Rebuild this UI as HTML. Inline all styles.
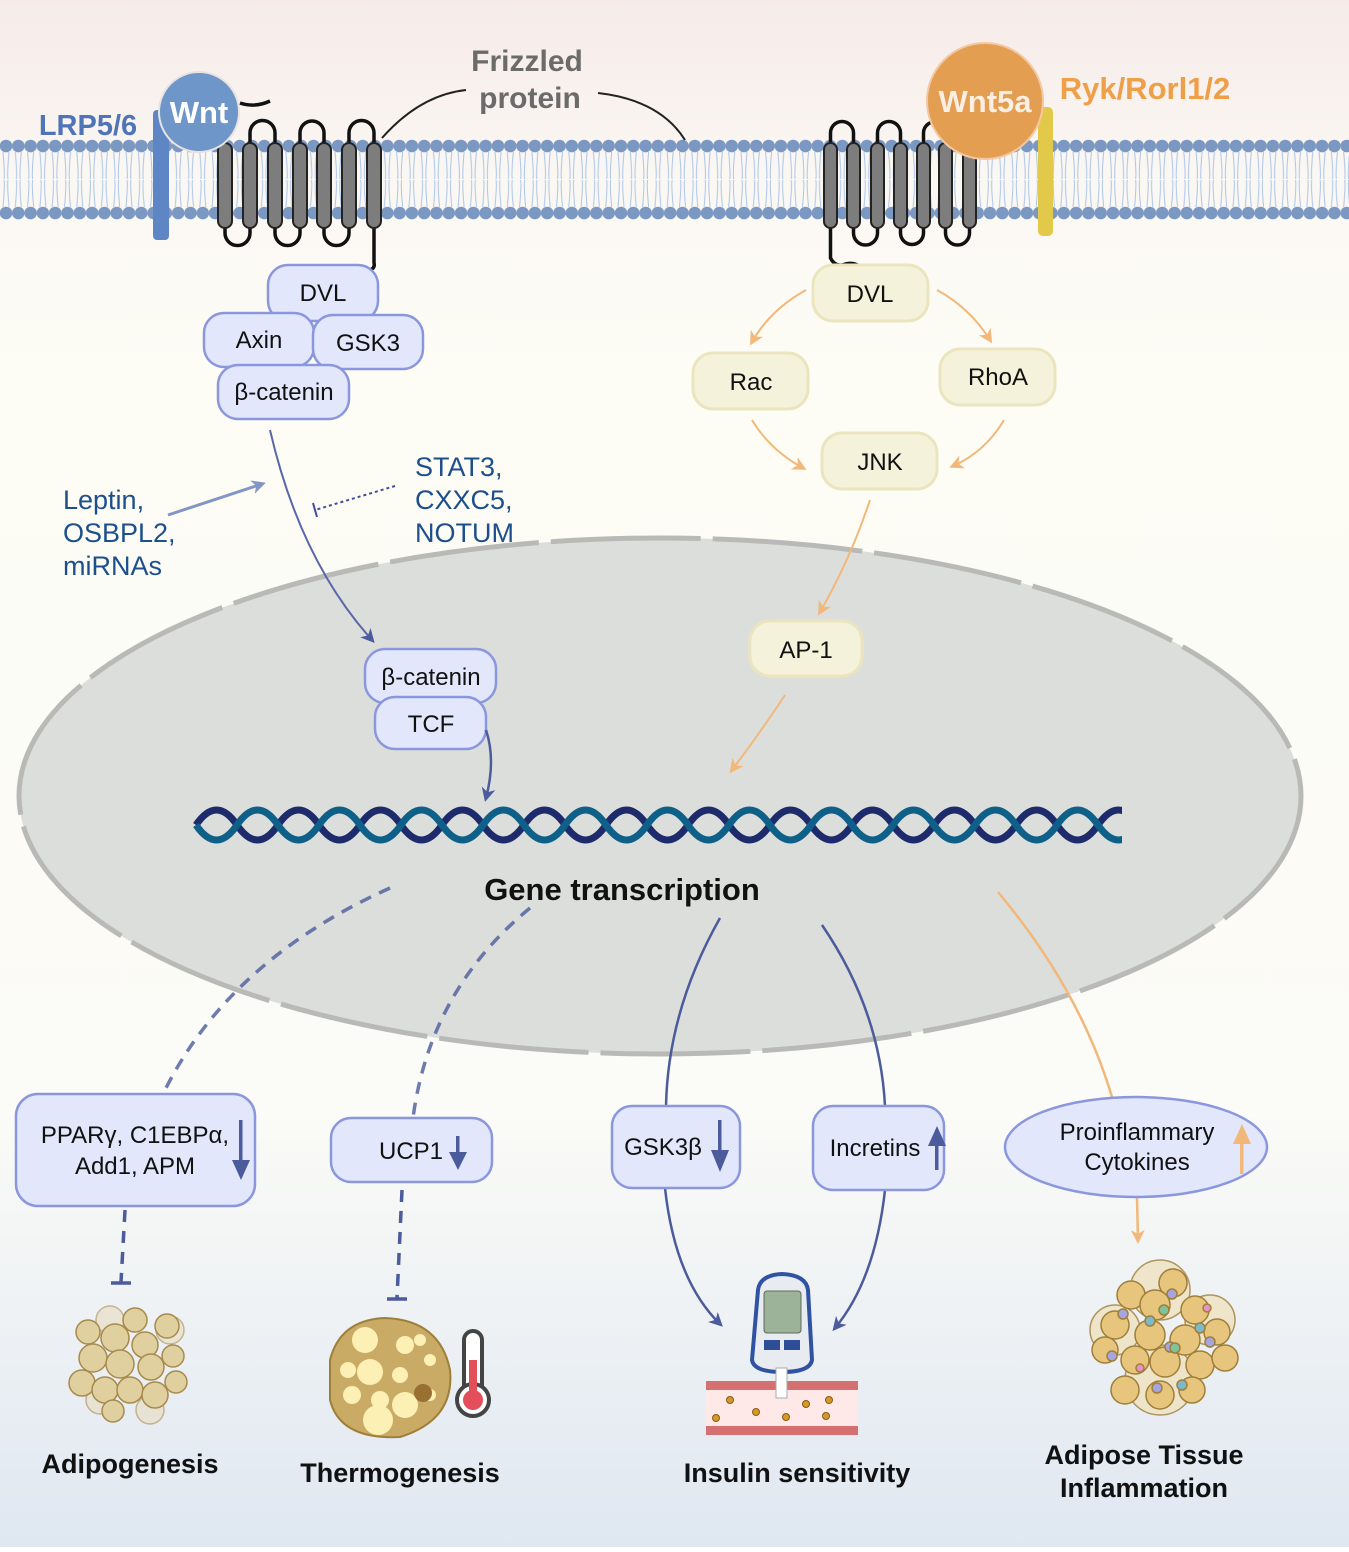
<!DOCTYPE html>
<html><head><meta charset="utf-8"><style>
html,body{margin:0;padding:0}
body{width:1349px;height:1547px;overflow:hidden;font-family:"Liberation Sans",sans-serif}
svg text{font-family:"Liberation Sans",sans-serif}
</style></head><body>
<svg width="1349" height="1547" viewBox="0 0 1349 1547" xmlns="http://www.w3.org/2000/svg">
<defs>
<linearGradient id="bg" x1="0" y1="0" x2="0" y2="1">
<stop offset="0" stop-color="#f6ebe9"/><stop offset="0.12" stop-color="#fbf8f3"/><stop offset="0.25" stop-color="#fdfcf5"/><stop offset="0.72" stop-color="#fbfbf7"/><stop offset="1" stop-color="#dfe7f1"/>
</linearGradient>
<pattern id="mem" x="0" y="0" width="12.3" height="1547" patternUnits="userSpaceOnUse">
<path d="M3,152 Q5,175 4,179 M9,152 Q7,175 8,179 M3,207 Q5,184 4,180 M9,207 Q7,184 8,180" stroke="#a9c4ea" stroke-width="1" fill="none"/>
<circle cx="6" cy="146" r="6.3" fill="#7b98c2"/><circle cx="6" cy="213" r="6.3" fill="#7b98c2"/>
</pattern>
<marker id="ao" markerWidth="14" markerHeight="14" refX="10" refY="7" orient="auto" markerUnits="userSpaceOnUse"><path d="M0,0 L14,7 L0,14 L4,7z" fill="#f2b87a"/></marker>
<marker id="abl" markerWidth="14" markerHeight="14" refX="10" refY="7" orient="auto" markerUnits="userSpaceOnUse"><path d="M0,0 L14,7 L0,14 L4,7z" fill="#4b5b9c"/></marker>
<marker id="ag" markerWidth="14" markerHeight="14" refX="10" refY="7" orient="auto" markerUnits="userSpaceOnUse"><path d="M0,0 L14,7 L0,14 L4,7z" fill="#8395c4"/></marker>
</defs>
<rect width="1349" height="1547" fill="url(#bg)"/>
<rect x="0" y="138" width="1349" height="82" fill="url(#mem)"/>

<ellipse cx="660" cy="796" rx="641" ry="258" fill="#dcdedb"/>
<ellipse cx="660" cy="796" rx="641" ry="258" fill="none" stroke="#b9bab7" stroke-width="5" stroke-dasharray="150,12"/>

<rect x="153" y="110" width="16" height="130" rx="4" fill="#5f86c4"/>
<g fill="none" stroke="#111" stroke-width="3.5">
<path d="M250,143 v-10 a12.5,12.5 0 0 1 25,0 v10 M300,143 v-10 a12,12 0 0 1 24,0 v10 M349,143 v-10 a12.5,12.5 0 0 1 25,0 v10"/>
<path d="M225,228 v5 a12.5,12.5 0 0 0 25,0 v-5 M275,228 v5 a12.5,12.5 0 0 0 25,0 v-5 M324,228 v5 a12.5,12.5 0 0 0 25,0 v-5"/>
<path d="M374,228 v35 q2,8 -12,8 q-20,-3 -25,2"/>
<path d="M240,103 q15,5 30,-2"/>
</g>
<g fill="#7d7d7d" stroke="#222" stroke-width="2">
<rect x="218" y="143" width="14" height="85" rx="7"/><rect x="243" y="143" width="14" height="85" rx="7"/><rect x="268" y="143" width="14" height="85" rx="7"/><rect x="293" y="143" width="14" height="85" rx="7"/><rect x="317" y="143" width="14" height="85" rx="7"/><rect x="342" y="143" width="14" height="85" rx="7"/><rect x="367" y="143" width="14" height="85" rx="7"/>
</g>
<circle cx="199" cy="112" r="40" fill="#6e96c8" stroke="#e7e3e3" stroke-width="2"/>
<text x="199" y="123" font-size="31" font-weight="bold" fill="#fff" text-anchor="middle">Wnt</text>
<text x="88" y="135" font-size="29" font-weight="bold" fill="#4f74b7" text-anchor="middle">LRP5/6</text>

<text x="527" y="71" font-size="30" font-weight="bold" fill="#6b6b6b" text-anchor="middle">Frizzled</text>
<text x="530" y="108" font-size="30" font-weight="bold" fill="#6b6b6b" text-anchor="middle">protein</text>
<path d="M382,138 Q420,95 466,90" stroke="#222" stroke-width="2" fill="none"/>
<path d="M598,93 Q660,100 685,140" stroke="#222" stroke-width="2" fill="none"/>

<g fill="none" stroke="#111" stroke-width="3.5">
<path d="M830.5,143 v-10 a11.5,11.5 0 0 1 23,0 v10 M877.5,143 v-10 a11.5,11.5 0 0 1 23,0 v10 M923.5,143 v-10 a11,11 0 0 1 22,0 v10"/>
<path d="M853.5,228 v5 a12,12 0 0 0 24,0 v-5 M900.5,228 v5 a11.5,11.5 0 0 0 23,0 v-5 M945.5,228 v5 a12,12 0 0 0 24,0 v-5"/>
<path d="M830.5,228 v30 q5,10 15,6 q12,-3 20,8"/>
</g>
<g fill="#7d7d7d" stroke="#222" stroke-width="2">
<rect x="824" y="143" width="13" height="85" rx="6.5"/><rect x="847" y="143" width="13" height="85" rx="6.5"/><rect x="871" y="143" width="13" height="85" rx="6.5"/><rect x="894" y="143" width="13" height="85" rx="6.5"/><rect x="917" y="143" width="13" height="85" rx="6.5"/><rect x="939" y="143" width="13" height="85" rx="6.5"/><rect x="963" y="143" width="13" height="85" rx="6.5"/>
</g>
<rect x="1038" y="107" width="15" height="129" rx="5" fill="#e3c94a"/>
<circle cx="985" cy="101" r="58" fill="#e39e52" stroke="#f3c8a2" stroke-width="2"/>
<text x="985" y="112" font-size="31" font-weight="bold" fill="#fbeee3" text-anchor="middle">Wnt5a</text>
<text x="1145" y="99" font-size="31" font-weight="bold" fill="#ef9f48" text-anchor="middle">Ryk/Rorl1/2</text>

<g fill="#e3e7fb" stroke="#8a97dd" stroke-width="2.5">
<rect x="268" y="265" width="110" height="56" rx="20"/>
<rect x="204" y="313" width="110" height="54" rx="20"/>
<rect x="313" y="315" width="110" height="54" rx="20"/>
<rect x="218" y="365" width="131" height="54" rx="20"/>
</g>
<g font-size="24" fill="#111" text-anchor="middle">
<text x="323" y="301">DVL</text><text x="259" y="348">Axin</text><text x="368" y="351">GSK3</text><text x="284" y="400">β-catenin</text>
</g>

<g fill="#f4f2da" stroke="#ebe5bf" stroke-width="3">
<rect x="813" y="265" width="115" height="56" rx="20"/>
<rect x="693" y="353" width="115" height="56" rx="20"/>
<rect x="940" y="349" width="115" height="56" rx="20"/>
<rect x="822" y="433" width="115" height="56" rx="20"/>
<rect x="750" y="621" width="112" height="55" rx="20"/>
</g>
<g font-size="24" fill="#111" text-anchor="middle">
<text x="870" y="302">DVL</text><text x="751" y="390">Rac</text><text x="998" y="385">RhoA</text><text x="880" y="470">JNK</text><text x="806" y="658">AP-1</text>
</g>
<g fill="none" stroke="#f2b87a" stroke-width="2" marker-end="url(#ao)">
<path d="M806,290 Q770,310 752,342"/>
<path d="M937,290 Q970,308 990,340"/>
<path d="M752,420 Q770,450 803,468"/>
<path d="M1004,420 Q985,452 953,466"/>
<path d="M870,500 Q850,560 820,612"/>
<path d="M785,695 Q762,730 732,770"/>
</g>

<path d="M270,430 Q300,560 372,640" stroke="#5a67a8" stroke-width="2" fill="none" marker-end="url(#abl)"/>
<path d="M168,515 L262,484" stroke="#8395c4" stroke-width="3" fill="none" marker-end="url(#ag)"/>
<path d="M395,486 L315,510" stroke="#3d4f9c" stroke-width="2" stroke-dasharray="3,3" fill="none"/>
<path d="M313,503 l4,14" stroke="#3d4f9c" stroke-width="2"/>
<g font-size="27" fill="#1c4f8c">
<text x="63" y="509">Leptin,</text><text x="63" y="542">OSBPL2,</text><text x="63" y="575">miRNAs</text>
<text x="415" y="476">STAT3,</text><text x="415" y="509">CXXC5,</text><text x="415" y="542">NOTUM</text>
</g>

<g fill="#e3e7fb" stroke="#8a97dd" stroke-width="2.5">
<rect x="365" y="649" width="131" height="54" rx="20"/>
<rect x="375" y="697" width="111" height="52" rx="20"/>
</g>
<g font-size="24" fill="#111" text-anchor="middle"><text x="431" y="685">β-catenin</text><text x="431" y="732">TCF</text></g>
<path d="M486,730 Q496,760 486,798" stroke="#4b5b9c" stroke-width="2.5" fill="none" marker-end="url(#abl)"/>

<path d="M196,825 q20.5,-30 41,0 t41,0 t41,0 t41,0 t41,0 t41,0 t41,0 t41,0 t41,0 t41,0 t41,0 t41,0 t41,0 t41,0 t41,0 t41,0 t41,0 t41,0 t41,0 t41,0 t41,0 t41,0 t41,0" stroke="#1d2a6b" stroke-width="7" fill="none"/>
<path d="M196,825 q20.5,30 41,0 t41,0 t41,0 t41,0 t41,0 t41,0 t41,0 t41,0 t41,0 t41,0 t41,0 t41,0 t41,0 t41,0 t41,0 t41,0 t41,0 t41,0 t41,0 t41,0 t41,0 t41,0 t41,0" stroke="#0f6088" stroke-width="7" fill="none"/>
<rect x="1122" y="790" width="60" height="70" fill="#dcdedb"/>
<text x="622" y="900" font-size="31" font-weight="bold" fill="#111" text-anchor="middle">Gene transcription</text>

<g fill="none" stroke="#4b5b9c" stroke-width="3.5" stroke-dasharray="12,9">
<path d="M390,888 Q230,960 165,1090" stroke-opacity="0.8"/>
<path d="M530,908 Q430,990 413,1118" stroke-opacity="0.8"/>
<path d="M125,1210 L121,1282"/><path d="M402,1190 L397,1298"/>
</g>
<path d="M111,1283 h20 M387,1299 h20" stroke="#4b5b9c" stroke-width="3.5"/>
<g fill="none" stroke="#4b5b9c" stroke-width="2.5">
<path d="M720,918 Q668,1010 666,1106"/>
<path d="M822,925 Q880,1010 885,1106"/>
<path d="M665,1188 Q675,1280 720,1324" marker-end="url(#abl)"/>
<path d="M885,1190 Q875,1280 835,1328" marker-end="url(#abl)"/>
</g>
<path d="M998,892 Q1080,990 1112,1097" stroke="#f2b87a" stroke-width="2.5" fill="none"/>
<path d="M1137,1198 L1138,1240" stroke="#f2b87a" stroke-width="2.5" fill="none" marker-end="url(#ao)"/>

<g fill="#e3e7fb" stroke="#8a97dd" stroke-width="2.5">
<rect x="16" y="1094" width="239" height="112" rx="22"/>
<rect x="331" y="1118" width="161" height="64" rx="20"/>
<rect x="612" y="1106" width="128" height="82" rx="20"/>
<rect x="813" y="1106" width="131" height="84" rx="20"/>
<ellipse cx="1136" cy="1147" rx="131" ry="50"/>
</g>
<g font-size="24" fill="#111" text-anchor="middle">
<text x="135" y="1143">PPARγ, C1EBPα,</text><text x="135" y="1174">Add1, APM</text>
<text x="411" y="1159">UCP1</text><text x="663" y="1155">GSK3β</text><text x="875" y="1156">Incretins</text>
<text x="1137" y="1140">Proinflammary</text><text x="1137" y="1170">Cytokines</text>
</g>
<g fill="#4b5b9c">
<rect x="239" y="1120" width="3.5" height="42"/><path d="M232,1160 h18 l-9,20z"/>
<rect x="456" y="1136" width="3.5" height="20"/><path d="M449,1152 h18 l-9,18z"/>
<rect x="718" y="1120" width="3.5" height="32"/><path d="M711,1150 h18 l-9,22z"/>
<rect x="935" y="1140" width="3.5" height="30"/><path d="M928,1146 h18 l-9,-20z"/>
</g>
<rect x="1240" y="1140" width="3.5" height="34" fill="#f2b87a"/><path d="M1233,1144 h18 l-9,-20z" fill="#f2b87a"/>

<g stroke="#a78a4d" stroke-width="1.5">
<g fill="#e8dcc0" opacity="0.6"><circle cx="110" cy="1320" r="14"/><circle cx="170" cy="1330" r="14"/><circle cx="100" cy="1400" r="14"/><circle cx="150" cy="1410" r="14"/></g>
<g fill="#e0cf9f">
<circle cx="88" cy="1332" r="12"/><circle cx="135" cy="1320" r="12"/><circle cx="167" cy="1326" r="12"/><circle cx="115" cy="1338" r="14"/><circle cx="145" cy="1345" r="13"/>
<circle cx="93" cy="1358" r="14"/><circle cx="120" cy="1364" r="14"/><circle cx="151" cy="1367" r="13"/><circle cx="173" cy="1356" r="11"/>
<circle cx="82" cy="1383" r="13"/><circle cx="105" cy="1390" r="13"/><circle cx="130" cy="1390" r="13"/><circle cx="155" cy="1395" r="13"/><circle cx="176" cy="1382" r="11"/><circle cx="113" cy="1411" r="11"/>
</g></g>
<path d="M330,1360 Q340,1320 385,1318 Q440,1320 450,1370 Q455,1420 400,1437 Q340,1440 330,1400z" fill="#c9ab66" stroke="#9e7f3a" stroke-width="2"/>
<g fill="#fcf0b4">
<circle cx="365" cy="1340" r="13"/><circle cx="405" cy="1345" r="9"/><circle cx="348" cy="1370" r="8"/><circle cx="370" cy="1372" r="13"/><circle cx="400" cy="1375" r="8"/><circle cx="430" cy="1360" r="6"/>
<circle cx="352" cy="1395" r="9"/><circle cx="380" cy="1400" r="9"/><circle cx="405" cy="1405" r="13"/><circle cx="378" cy="1420" r="15"/><circle cx="430" cy="1395" r="6"/><circle cx="420" cy="1340" r="6"/>
</g>
<circle cx="423" cy="1393" r="9" fill="#9a6f32"/>
<rect x="464" y="1331" width="18" height="65" rx="9" fill="#fff" stroke="#444" stroke-width="4"/>
<circle cx="473" cy="1400" r="16" fill="#fff" stroke="#444" stroke-width="4"/>
<circle cx="473" cy="1400" r="10" fill="#e24f5b"/><rect x="469" y="1360" width="8" height="38" fill="#e24f5b"/>
<rect x="706" y="1381" width="152" height="54" fill="#ffe9e8"/>
<rect x="706" y="1381" width="152" height="9" fill="#d47070"/><rect x="706" y="1426" width="152" height="9" fill="#d47070"/>
<g fill="#d39a2a" stroke="#8b5a12"><circle cx="730" cy="1400" r="3.5"/><circle cx="716" cy="1418" r="3.5"/><circle cx="756" cy="1412" r="3.5"/><circle cx="786" cy="1417" r="3.5"/><circle cx="806" cy="1404" r="3.5"/><circle cx="826" cy="1416" r="3.5"/><circle cx="829" cy="1400" r="3.5"/></g>
<path d="M758,1290 Q760,1275 782,1274 Q806,1275 808,1290 L812,1360 Q810,1372 782,1372 Q754,1372 752,1360z" fill="#e8ecf1" stroke="#2f53a2" stroke-width="4"/>
<rect x="764" y="1291" width="37" height="42" rx="3" fill="#9cb39a" stroke="#5c6b5c"/>
<path d="M764,1340 h16 v10 h-16z M784,1340 h16 v10 h-16z" fill="#2f4d96"/>
<rect x="776" y="1368" width="11" height="30" fill="#fff" stroke="#aaa"/>
<g stroke="#9e7f3a" stroke-width="1.5">
<g fill="#efe2c0" opacity="0.8"><circle cx="1160" cy="1290" r="30"/><circle cx="1115" cy="1330" r="25"/><circle cx="1210" cy="1320" r="25"/><circle cx="1160" cy="1380" r="35"/></g>
<g fill="#e7c57c">
<circle cx="1131" cy="1295" r="14"/><circle cx="1173" cy="1283" r="14"/><circle cx="1155" cy="1305" r="15"/><circle cx="1195" cy="1310" r="14"/>
<circle cx="1115" cy="1325" r="14"/><circle cx="1150" cy="1335" r="15"/><circle cx="1185" cy="1340" r="15"/><circle cx="1217" cy="1332" r="13"/>
<circle cx="1105" cy="1350" r="13"/><circle cx="1135" cy="1360" r="14"/><circle cx="1165" cy="1362" r="15"/><circle cx="1200" cy="1365" r="14"/><circle cx="1225" cy="1358" r="13"/>
<circle cx="1125" cy="1390" r="14"/><circle cx="1160" cy="1395" r="14"/><circle cx="1192" cy="1390" r="13"/>
</g>
<g fill="#a7a4e2"><circle cx="1172" cy="1294" r="5"/><circle cx="1123" cy="1314" r="5"/><circle cx="1210" cy="1342" r="5"/><circle cx="1170" cy="1347" r="5"/><circle cx="1112" cy="1356" r="5"/><circle cx="1157" cy="1388" r="5"/></g>
<g fill="#7cbacb"><circle cx="1150" cy="1321" r="5"/><circle cx="1200" cy="1328" r="5"/><circle cx="1182" cy="1385" r="5"/></g>
<g fill="#7fc39a"><circle cx="1164" cy="1310" r="5"/><circle cx="1175" cy="1348" r="5"/></g>
<g fill="#e594c8"><circle cx="1207" cy="1308" r="4"/><circle cx="1140" cy="1368" r="4"/></g>
</g>

<g font-size="27" font-weight="bold" fill="#111" text-anchor="middle">
<text x="130" y="1473">Adipogenesis</text>
<text x="400" y="1482">Thermogenesis</text>
<text x="797" y="1482">Insulin sensitivity</text>
<text x="1144" y="1464">Adipose Tissue</text>
<text x="1144" y="1497">Inflammation</text>
</g>
</svg>
</body></html>
